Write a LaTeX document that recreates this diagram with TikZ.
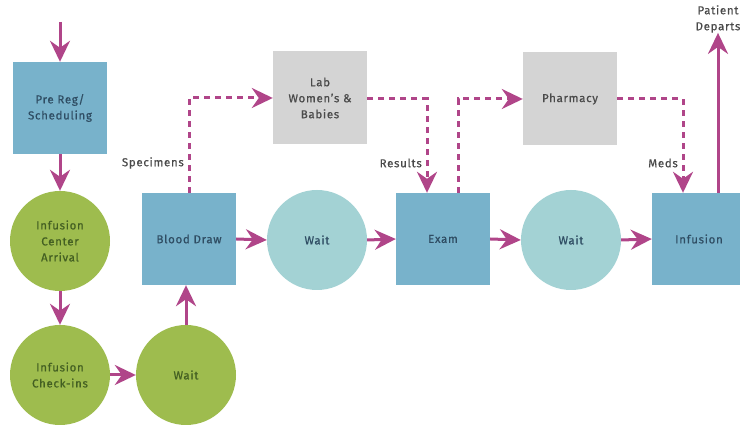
\documentclass[tikz,border=0pt]{standalone}
\usepackage{fontspec}
\setmainfont{Fira Sans}[LetterSpace=6, FakeBold=0.6]
\usetikzlibrary{arrows.meta,positioning,calc}
\definecolor{boxblue}{HTML}{78B2CB}
\definecolor{circgreen}{HTML}{9EBC4E}
\definecolor{circteal}{HTML}{A3D2D4}
\definecolor{boxgray}{HTML}{D4D4D4}
\definecolor{arrmag}{HTML}{B04589}
\definecolor{txtblue}{HTML}{2F4D63}
\definecolor{txtgreen}{HTML}{435F22}
\definecolor{txtgray}{HTML}{4A4A4A}
\begin{document}
\begin{tikzpicture}[x=1pt,y=-1pt,
  every node/.style={font=\fontsize{11.5}{16}\selectfont, align=center},
  bluebox/.style={rectangle, fill=boxblue, minimum width=94pt, minimum height=92pt, inner sep=0pt, text=txtblue},
  graybox/.style={rectangle, fill=boxgray, minimum width=94pt, minimum height=93pt, inner sep=0pt, text=txtgray},
  greencirc/.style={circle, fill=circgreen, minimum size=100pt, inner sep=0pt, text=txtgreen},
  tealcirc/.style={circle, fill=circteal, minimum size=100pt, inner sep=0pt, text=txtblue},
  flow/.style={draw=arrmag, line width=3pt, -{Stealth[length=21pt,width=20pt,inset=7pt]}},
  dflow/.style={draw=arrmag, line width=3pt, dash pattern=on 6pt off 5pt, -{Stealth[length=21pt,width=20pt,inset=7pt]}},
  lbl/.style={text=txtgray, anchor=east, inner sep=1pt}
]
\useasboundingbox (0,0) rectangle (740,427);
\fill[white] (0,0) rectangle (740,427);

\node[bluebox] (prereg) at (60,108) {Pre Reg/\\Scheduling};
\node[greencirc] (arrival) at (60,241) {Infusion\\Center\\Arrival};
\node[greencirc] (checkin) at (60,375) {Infusion\\Check-ins};
\node[greencirc] (waitg) at (186,375) {Wait};
\node[bluebox] (blood) at (189,239) {Blood Draw};
\node[tealcirc] (wait1) at (317,240) {Wait};
\node[bluebox] (exam) at (443,239) {Exam};
\node[tealcirc] (wait2) at (571,240) {Wait};
\node[bluebox] (infusion) at (699,239) {Infusion};
\node[graybox] (lab) at (320,98) {Lab\\Women's \&\\Babies};
\node[graybox] (pharm) at (570,99) {Pharmacy};
\node[text=txtgray, inner sep=0pt] (depart) at (718,19) {Patient\\Departs};

\coordinate (start) at (60,22);
\coordinate (pdstart) at (718,193);

\draw[flow] (start) -- (prereg.north);
\draw[flow] (prereg.south) -- (arrival.north);
\draw[flow] (arrival.south) -- (checkin.north);
\draw[flow] (checkin.east) -- (waitg.west);
\draw[flow] (waitg.north) -- (waitg.north |- blood.south);
\draw[flow] (blood.east) -- (wait1.west);
\draw[flow] (wait1.east) -- (exam.west);
\draw[flow] (exam.east) -- (wait2.west);
\draw[flow] (wait2.east) -- (infusion.west);
\draw[flow] (pdstart) -- (depart.south);

\coordinate (c1) at (blood.north |- lab.west);
\draw[dflow] (blood.north) -- (c1) -- (lab.west);
\coordinate (c2) at (427,99);
\draw[dflow] (lab.east |- c2) -- (c2) -- (c2 |- exam.north);
\coordinate (c3) at (458,99);
\draw[dflow] (c3 |- exam.north) -- (c3) -- (pharm.west);
\coordinate (c4) at (683,99);
\draw[dflow] (pharm.east) -- (c4) -- (c4 |- infusion.north);

\node[lbl] (spec) at (185,163) {Specimens};
\node[lbl] (res) at (423,163) {Results};
\node[lbl] (meds) at (679,163) {Meds};
\end{tikzpicture}
\end{document}
